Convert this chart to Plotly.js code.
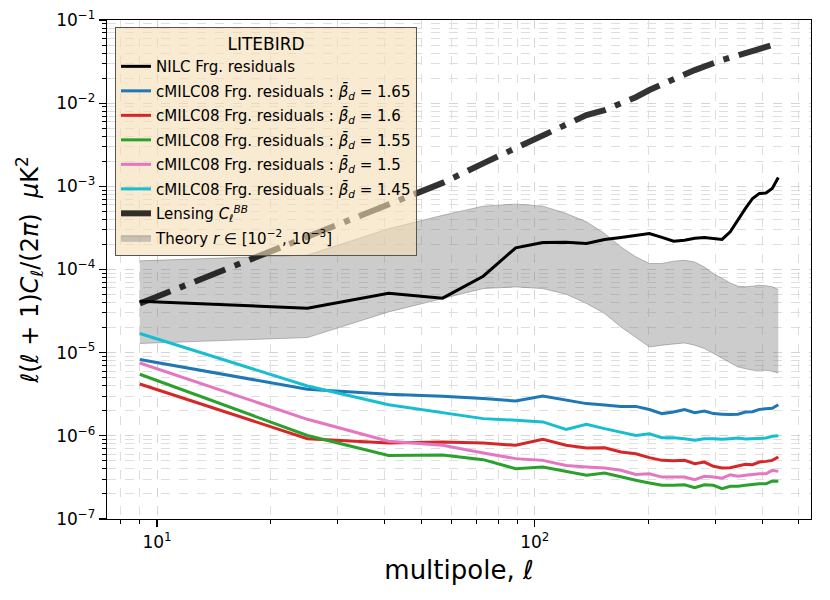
<!DOCTYPE html>
<html>
<head>
<meta charset="utf-8">
<script src="https://cdn.plot.ly/plotly-3.0.1.min.js"></script>
<style>
  body { margin: 0; background: #fff; }
  #chart { width: 830px; height: 600px; }
</style>
</head>
<body>
<div id="chart"></div>
<script>
// multipole bins (delta ell = 16)
var ell = [9, 25, 41, 57, 73, 89, 105, 121, 137, 153, 169, 185, 201, 217,
           233, 249, 265, 281, 297, 313, 329, 345, 361, 377, 393, 409, 425, 441];

var nilc = [4.16e-5, 3.42e-5, 5.19e-5, 4.52e-5, 8.3e-5, 1.82e-4, 2.11e-4, 2.13e-4,
            2.06e-4, 2.3e-4, 2.43e-4, 2.59e-4, 2.71e-4, 2.43e-4, 2.19e-4, 2.25e-4,
            2.38e-4, 2.43e-4, 2.38e-4, 2.3e-4, 2.84e-4, 4.0e-4, 5.42e-4, 7.15e-4,
            8.22e-4, 8.3e-4, 9.43e-4, 1.28e-3];

var beta165 = [8.3e-6, 3.63e-6, 3.16e-6, 2.99e-6, 2.81e-6, 2.62e-6, 3.01e-6, 2.67e-6,
               2.44e-6, 2.35e-6, 2.26e-6, 2.26e-6, 2.07e-6, 1.85e-6, 1.93e-6, 2.07e-6,
               1.9e-6, 1.99e-6, 1.85e-6, 1.82e-6, 1.8e-6, 1.82e-6, 1.93e-6, 1.95e-6,
               2.08e-6, 2.12e-6, 2.14e-6, 2.37e-6];

var beta160 = [4.2e-6, 9.25e-7, 8.18e-7, 8.41e-7, 8.18e-7, 7.69e-7, 9.08e-7, 7.69e-7,
               7.13e-7, 7.2e-7, 6.38e-7, 6.1e-7, 5.47e-7, 5.07e-7, 5.0e-7, 5.07e-7,
               4.63e-7, 4.84e-7, 4.3e-7, 4.1e-7, 4.14e-7, 4.33e-7, 4.54e-7, 4.5e-7,
               4.84e-7, 4.93e-7, 5.07e-7, 5.56e-7];

var beta155 = [5.5e-6, 1.01e-6, 5.82e-7, 5.88e-7, 5.17e-7, 4.03e-7, 4.22e-7, 3.77e-7,
               3.35e-7, 3.57e-7, 3.19e-7, 2.92e-7, 2.71e-7, 2.54e-7, 2.54e-7, 2.58e-7,
               2.38e-7, 2.58e-7, 2.54e-7, 2.32e-7, 2.47e-7, 2.47e-7, 2.54e-7, 2.61e-7,
               2.65e-7, 2.65e-7, 2.86e-7, 2.84e-7];

var beta150 = [7.52e-6, 1.58e-6, 8.59e-7, 7.69e-7, 6.21e-7, 5.32e-7, 5.07e-7, 4.41e-7,
               4.22e-7, 4.1e-7, 3.85e-7, 3.44e-7, 3.5e-7, 3.19e-7, 3.19e-7, 3.19e-7,
               2.97e-7, 3.26e-7, 3.19e-7, 3.1e-7, 3.41e-7, 3.26e-7, 3.35e-7, 3.44e-7,
               3.5e-7, 3.5e-7, 3.85e-7, 3.74e-7];

var beta145 = [1.7e-5, 3.97e-6, 2.37e-6, 1.88e-6, 1.61e-6, 1.54e-6, 1.47e-6, 1.19e-6,
               1.38e-6, 1.22e-6, 1.11e-6, 1.01e-6, 1.06e-6, 9.5e-7, 9.5e-7, 9.25e-7,
               8.83e-7, 9.25e-7, 9.25e-7, 9.08e-7, 9.25e-7, 9.4e-7, 9.15e-7, 9.25e-7,
               9.4e-7, 9.4e-7, 9.86e-7, 1.0e-6];

var lensing = [3.9e-5, 2.48e-4, 6.04e-4, 1.1e-3, 1.89e-3, 2.86e-3, 4.03e-3, 5.42e-3,
               7.19e-3, 8.26e-3, 9.75e-3, 1.18e-2, 1.44e-2, 1.7e-2, 1.95e-2, 2.21e-2,
               2.5e-2, 2.79e-2, 3.08e-2, 3.3e-2, 3.54e-2, 3.79e-2, 4.04e-2, 4.3e-2,
               4.52e-2, 4.73e-2, 4.96e-2, 5.23e-2];

// primordial BB for r = 1e-2 (upper) and r = 1e-3 (lower)
var theoryHigh = [1.27e-4, 1.49e-4, 3.09e-4, 4.48e-4, 5.78e-4, 6.11e-4, 5.78e-4, 4.72e-4,
                  3.74e-4, 2.71e-4, 1.87e-4, 1.42e-4, 1.18e-4, 1.18e-4, 1.26e-4, 1.29e-4,
                  1.23e-4, 1.07e-4, 8.95e-5, 7.8e-5, 6.9e-5, 6.3e-5, 6.2e-5, 6.3e-5,
                  6.47e-5, 6.37e-5, 6.2e-5, 5.74e-5];
var theoryLow = [1.29e-5, 1.52e-5, 3.09e-5, 4.48e-5, 5.9e-5, 6.18e-5, 5.9e-5, 5.05e-5,
                 3.9e-5, 2.96e-5, 2.04e-5, 1.53e-5, 1.17e-5, 1.23e-5, 1.26e-5, 1.31e-5,
                 1.23e-5, 1.12e-5, 9.8e-6, 8.5e-6, 7.55e-6, 6.73e-6, 6.4e-6, 6.14e-6,
                 6.14e-6, 6.14e-6, 5.97e-6, 5.7e-6];

var betaLabels = ['1.65', '1.6', '1.55', '1.5', '1.45'];
var betaSeries = [beta165, beta160, beta155, beta150, beta145];
var betaColors = ['#1f77b4', '#d62728', '#2ca02c', '#e377c2', '#17becf'];

var data = [];

data.push({
    x: ell, y: theoryLow, type: 'scatter', mode: 'lines',
    line: {color: 'rgba(110,110,110,0.45)', width: 1},
    showlegend: false, hoverinfo: 'skip'
});
data.push({
    x: ell, y: theoryHigh, type: 'scatter', mode: 'lines',
    fill: 'tonexty', fillcolor: 'rgba(128,128,128,0.4)',
    line: {color: 'rgba(110,110,110,0.45)', width: 1},
    name: 'Theory <i>r</i> ∈ [10<sup>−2</sup>, 10<sup>−3</sup>]',
    legendgroup: 'g8', legendrank: 8
});

data.push({
    x: ell, y: nilc, type: 'scatter', mode: 'lines',
    line: {color: 'black', width: 3},
    name: 'NILC Frg. residuals',
    legendgroup: 'g1', legendrank: 1
});

for (var i = 0; i < betaSeries.length; i++) {
    data.push({
        x: ell, y: betaSeries[i], type: 'scatter', mode: 'lines',
        line: {color: betaColors[i], width: 3},
        name: 'cMILC08 Frg. residuals : <i>β̄</i><sub><i>d</i></sub> = ' + betaLabels[i],
        legendgroup: 'g' + (i + 2), legendrank: i + 2
    });
}

data.push({
    x: ell, y: lensing, type: 'scatter', mode: 'lines',
    line: {color: 'rgba(0,0,0,0.8)', width: 6, dash: '33px,10px,6px,10px'},
    name: 'Lensing <i>C</i><sub><i>ℓ</i></sub><sup><i>BB</i></sup>',
    legendgroup: 'g7', legendrank: 7
});

// minor tick positions
var xMinor = [];
[1, 10, 100].forEach(function (d) {
    for (var m = 2; m <= 9; m++) xMinor.push(m * d);
});
var yMinor = [];
for (var e = -7; e < -1; e++) {
    for (var m = 2; m <= 9; m++) yMinor.push(m * Math.pow(10, e));
}

var FONT = 'DejaVu Sans, sans-serif';

var layout = {
    width: 830,
    height: 600,
    paper_bgcolor: 'white',
    plot_bgcolor: 'white',
    margin: {l: 107, r: 19, t: 20, b: 81},
    font: {family: FONT, color: 'black'},
    showlegend: true,
    xaxis: {
        type: 'log',
        range: [0.8675, 2.731],
        showline: true, mirror: true, linecolor: 'black', linewidth: 1.3,
        ticks: 'outside', ticklen: 7, tickwidth: 1.2, tickcolor: 'black',
        tickmode: 'array',
        tickvals: [10, 100],
        ticktext: ['10<sup>1</sup>', '10<sup>2</sup>'],
        tickfont: {size: 17},
        showgrid: true, gridcolor: '#d4d4d4', gridwidth: 1, griddash: 'dash',
        minor: {
            tickmode: 'array', tickvals: xMinor,
            ticks: 'outside', ticklen: 4, tickcolor: 'black', tickwidth: 1,
            showgrid: true, gridcolor: '#dedede', gridwidth: 1, griddash: 'dash'
        },
        zeroline: false,
        title: {text: 'multipole, <i>ℓ</i>', font: {size: 26}, standoff: 10}
    },
    yaxis: {
        type: 'log',
        range: [-7, -1],
        showline: true, mirror: true, linecolor: 'black', linewidth: 1.3,
        ticks: 'outside', ticklen: 7, tickwidth: 1.2, tickcolor: 'black',
        tickmode: 'array',
        tickvals: [1e-7, 1e-6, 1e-5, 1e-4, 1e-3, 1e-2, 1e-1],
        ticktext: ['10<sup>−7</sup>', '10<sup>−6</sup>', '10<sup>−5</sup>', '10<sup>−4</sup>',
                   '10<sup>−3</sup>', '10<sup>−2</sup>', '10<sup>−1</sup>'],
        tickfont: {size: 17},
        showgrid: true, gridcolor: '#d4d4d4', gridwidth: 1, griddash: 'dash',
        minor: {
            tickmode: 'array', tickvals: yMinor,
            ticks: 'outside', ticklen: 4, tickcolor: 'black', tickwidth: 1,
            showgrid: true, gridcolor: '#dedede', gridwidth: 1, griddash: 'dash'
        },
        zeroline: false,
        title: {
            text: '<i>ℓ</i>(<i>ℓ</i> + 1)<i>C</i><sub><i>ℓ</i></sub>/(2<i>π</i>)  <i>μ</i>K<sup>2</sup>',
            font: {size: 24}, standoff: 10
        }
    },
    legend: {
        x: 0.0114, xanchor: 'left',
        y: 0.986, yanchor: 'top',
        bgcolor: 'rgba(245,222,179,0.6)',
        bordercolor: '#555555', borderwidth: 1,
        font: {size: 15, family: FONT},
        title: {text: 'LITEBIRD', side: 'top center', font: {size: 17, family: FONT}},
        traceorder: 'grouped',
        tracegroupgap: 2
    }
};

Plotly.newPlot('chart', data, layout, {displayModeBar: false, staticPlot: true});
</script>
</body>
</html>
